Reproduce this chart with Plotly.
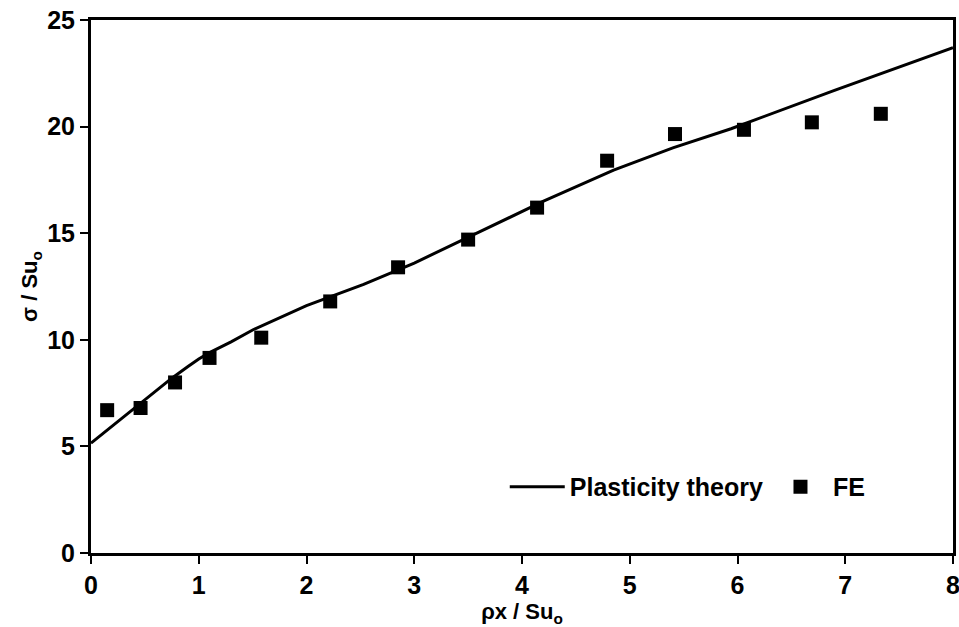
import plotly.graph_objects as go

# Plasticity theory curve
theory_x = [0.0, 0.44, 0.75, 0.9, 1.0, 1.1, 1.3, 1.5, 2.0, 2.53, 3.0, 3.6, 4.2, 4.85, 5.4, 5.94, 6.9, 8.0]
theory_y = [5.15, 6.94, 8.2, 8.75, 9.1, 9.4, 9.9, 10.46, 11.6, 12.6, 13.6, 15.05, 16.5, 17.96, 19.0, 19.9, 21.7, 23.7]

# FE results
fe_x = [0.15, 0.46, 0.78, 1.10, 1.58, 2.22, 2.85, 3.50, 4.14, 4.79, 5.42, 6.06, 6.69, 7.33]
fe_y = [6.7, 6.8, 8.0, 9.15, 10.1, 11.8, 13.4, 14.7, 16.2, 18.4, 19.65, 19.85, 20.2, 20.6]

x_ticks = [0, 1, 2, 3, 4, 5, 6, 7, 8]
y_ticks = [0, 5, 10, 15, 20, 25]

font_family = "Liberation Sans, Arial, sans-serif"

fig = go.Figure()
fig.add_trace(go.Scatter(
    x=theory_x, y=theory_y, mode="lines", name="<b>Plasticity theory</b>",
    line=dict(color="black", width=3),
))
fig.add_trace(go.Scatter(
    x=fe_x, y=fe_y, mode="markers", name="<b>FE</b>",
    marker=dict(symbol="square", size=14, color="black"),
))

axis_common = dict(
    showline=True, linecolor="black", linewidth=3, mirror=True,
    ticks="outside", ticklen=8, tickwidth=2, tickcolor="black",
    showgrid=False, zeroline=False, automargin=False,
    ticklabeloverflow="allow",
    tickfont=dict(family=font_family, size=25, color="black"),
)

fig.update_layout(
    width=959, height=627,
    margin=dict(l=91, r=6, t=20, b=74),
    paper_bgcolor="white", plot_bgcolor="white",
    font=dict(family=font_family, color="black"),
    xaxis=dict(range=[0, 8], tickvals=x_ticks, ticktext=[f"<b>{v}</b>" for v in x_ticks],
               title=dict(text="<b>ρx / Su<sub>o</sub></b>", font=dict(size=22), standoff=6),
               **axis_common),
    yaxis=dict(range=[0, 25], tickvals=y_ticks, ticktext=[f"<b>{v}</b>" for v in y_ticks],
               title=dict(text="<b>σ / Su<sub>o</sub></b>", font=dict(size=22), standoff=4),
               **axis_common),
    legend=dict(orientation="h", x=0.48, y=0.124, xanchor="left", yanchor="middle",
                bgcolor="rgba(0,0,0,0)", font=dict(size=25, family=font_family),
                itemwidth=55),
    showlegend=True,
)

fig.write_html("out.html")
